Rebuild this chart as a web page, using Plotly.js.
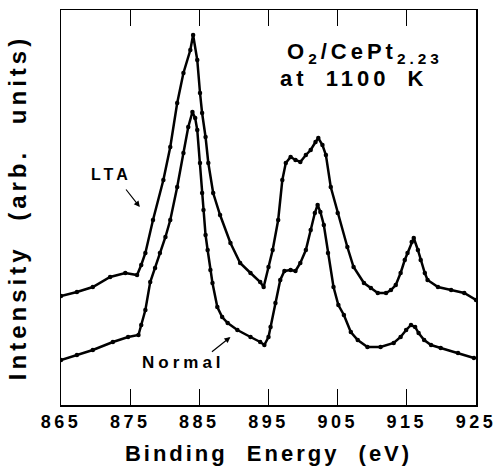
<!DOCTYPE html>
<html>
<head>
<meta charset="utf-8">
<script src="https://cdn.plot.ly/plotly-3.0.1.min.js"></script>
<style>
  html, body { margin: 0; padding: 0; background: #fff; }
  #chart { width: 497px; height: 472px; }
  .xtick text { letter-spacing: 3.5px; }
  text.xtitle { letter-spacing: 3px; word-spacing: 10px; }
  text.ytitle { letter-spacing: 4px; word-spacing: 14px; }
  .annotation-text-g text { letter-spacing: 4px; word-spacing: 8px; }
</style>
</head>
<body>
<div id="chart"></div>
<script>
// Binding energy (eV) and intensity (arb. units)
const ltaEnergy = [865.0, 867.3, 869.6, 872.1, 874.3, 876.0, 876.6, 877.2, 878.3, 879.8, 880.8, 881.8, 882.7, 883.7, 884.1, 884.7, 885.1, 885.4, 885.9, 886.3, 887.0, 888.0, 889.5, 890.9, 892.4, 893.8, 894.3, 895.0, 895.6, 896.4, 897.0, 897.5, 898.2, 898.9, 899.6, 900.4, 901.1, 901.8, 902.2, 902.8, 903.3, 904.0, 905.0, 906.4, 907.3, 908.8, 909.8, 910.8, 912.0, 912.7, 913.4, 914.1, 914.7, 915.1, 915.7, 916.0, 916.6, 917.0, 917.6, 918.0, 919.5, 921.4, 923.3, 925.0];
const ltaIntensity = [109, 113, 118, 128, 132, 130, 140, 152, 185, 225, 258, 302, 332, 355, 370, 345, 312, 292, 268, 242, 212, 190, 162, 142, 132, 123, 118, 138, 155, 185, 225, 242, 248, 245, 243, 250, 255, 263, 267, 260, 250, 218, 192, 158, 138, 122, 117, 112, 112, 115, 120, 132, 145, 152, 163, 167, 155, 145, 132, 125, 118, 115, 112, 105];

const normalEnergy = [865.0, 867.3, 869.6, 872.5, 874.7, 876.2, 876.6, 877.2, 877.9, 878.6, 879.3, 880.1, 880.8, 881.8, 882.7, 883.4, 884.0, 884.4, 884.7, 885.1, 885.4, 885.6, 885.9, 886.2, 886.6, 886.9, 887.6, 888.3, 889.1, 890.5, 892.4, 893.8, 894.4, 895.0, 895.3, 896.0, 896.7, 897.3, 898.2, 898.9, 899.6, 900.4, 901.1, 901.7, 902.1, 902.5, 903.0, 903.6, 904.4, 905.1, 905.9, 906.9, 907.9, 909.3, 911.2, 913.1, 914.1, 914.9, 915.6, 916.2, 916.7, 917.5, 918.5, 919.9, 922.4, 924.7];
const normalIntensity = [45, 50, 55, 63, 68, 70, 80, 95, 123, 137, 152, 168, 185, 218, 252, 278, 293, 287, 275, 242, 212, 195, 170, 155, 135, 122, 98, 88, 82, 75, 68, 63, 60, 68, 78, 102, 125, 134, 135, 134, 142, 155, 175, 192, 200, 193, 180, 152, 118, 100, 90, 73, 65, 58, 58, 62, 68, 75, 80, 78, 72, 65, 60, 57, 52, 47];

const tickValues = [865, 875, 885, 895, 905, 915, 925];
const tickLabels = ["865", "875", "885", "895", "905", "915", "925"];

const FONT = "'Liberation Sans', Arial, Helvetica, sans-serif";

const traceStyle = {
  mode: 'lines+markers',
  line: { color: '#000', width: 2.5 },
  marker: { color: '#000', size: 4.5 },
  hoverinfo: 'skip',
  showlegend: false
};

const data = [
  Object.assign({ x: ltaEnergy, y: ltaIntensity, type: 'scatter', name: 'LTA' }, traceStyle),
  Object.assign({ x: normalEnergy, y: normalIntensity, type: 'scatter', name: 'Normal' }, traceStyle)
];

const layout = {
  width: 497,
  height: 472,
  margin: { l: 61, r: 21, t: 10, b: 67 },
  paper_bgcolor: '#fff',
  plot_bgcolor: '#fff',
  font: { family: FONT, color: '#000' },
  xaxis: {
    range: [865, 925],
    tickmode: 'array',
    tickvals: tickValues,
    ticktext: tickLabels,
    ticks: 'inside',
    ticklen: 16,
    tickwidth: 1.2,
    tickcolor: '#000',
    mirror: 'ticks',
    showline: true,
    linecolor: '#000',
    linewidth: 1.5,
    showgrid: false,
    zeroline: false,
    ticklabeloverflow: 'allow',
    tickfont: { family: FONT, size: 18, weight: 'bold', color: '#000' },
    title: { text: 'Binding Energy (eV)', font: { family: FONT, size: 22, weight: 'bold', color: '#000' }, standoff: 14 }
  },
  yaxis: {
    range: [0, 395],
    showticklabels: false,
    ticks: '',
    mirror: true,
    showline: true,
    linecolor: '#000',
    linewidth: 1.5,
    showgrid: false,
    zeroline: false,
    title: { text: 'Intensity (arb. units)', font: { family: FONT, size: 24, weight: 'bold', color: '#000' }, standoff: 26 }
  },
  annotations: [
    { x: 909.0, y: 352, xref: 'x', yref: 'y', xanchor: 'center', yanchor: 'middle', showarrow: false,
      text: 'O<sub>2</sub>/CePt<sub>2.23</sub>', font: { family: FONT, size: 22, weight: 'bold', color: '#000' } },
    { x: 907.4, y: 327, xref: 'x', yref: 'y', xanchor: 'center', yanchor: 'middle', showarrow: false,
      text: 'at 1100 K', font: { family: FONT, size: 22, weight: 'bold', color: '#000' } },
    { x: 872.3, y: 231, xref: 'x', yref: 'y', showarrow: false,
      text: 'LTA', font: { family: FONT, size: 16, weight: 'bold', color: '#000' } },
    { x: 876.4, y: 198, xref: 'x', yref: 'y', text: '', showarrow: true, ax: -15, ay: -19,
      arrowhead: 2, arrowsize: 1, arrowwidth: 1.2, arrowcolor: '#000' },
    { x: 882.7, y: 43, xref: 'x', yref: 'y', showarrow: false,
      text: 'Normal', font: { family: FONT, size: 17, weight: 'bold', color: '#000' } },
    { x: 889.5, y: 68, xref: 'x', yref: 'y', text: '', showarrow: true, ax: -20, ay: 16,
      arrowhead: 2, arrowsize: 1, arrowwidth: 1.2, arrowcolor: '#000' }
  ]
};

Plotly.newPlot('chart', data, layout, { displayModeBar: false, staticPlot: true });
</script>
</body>
</html>
